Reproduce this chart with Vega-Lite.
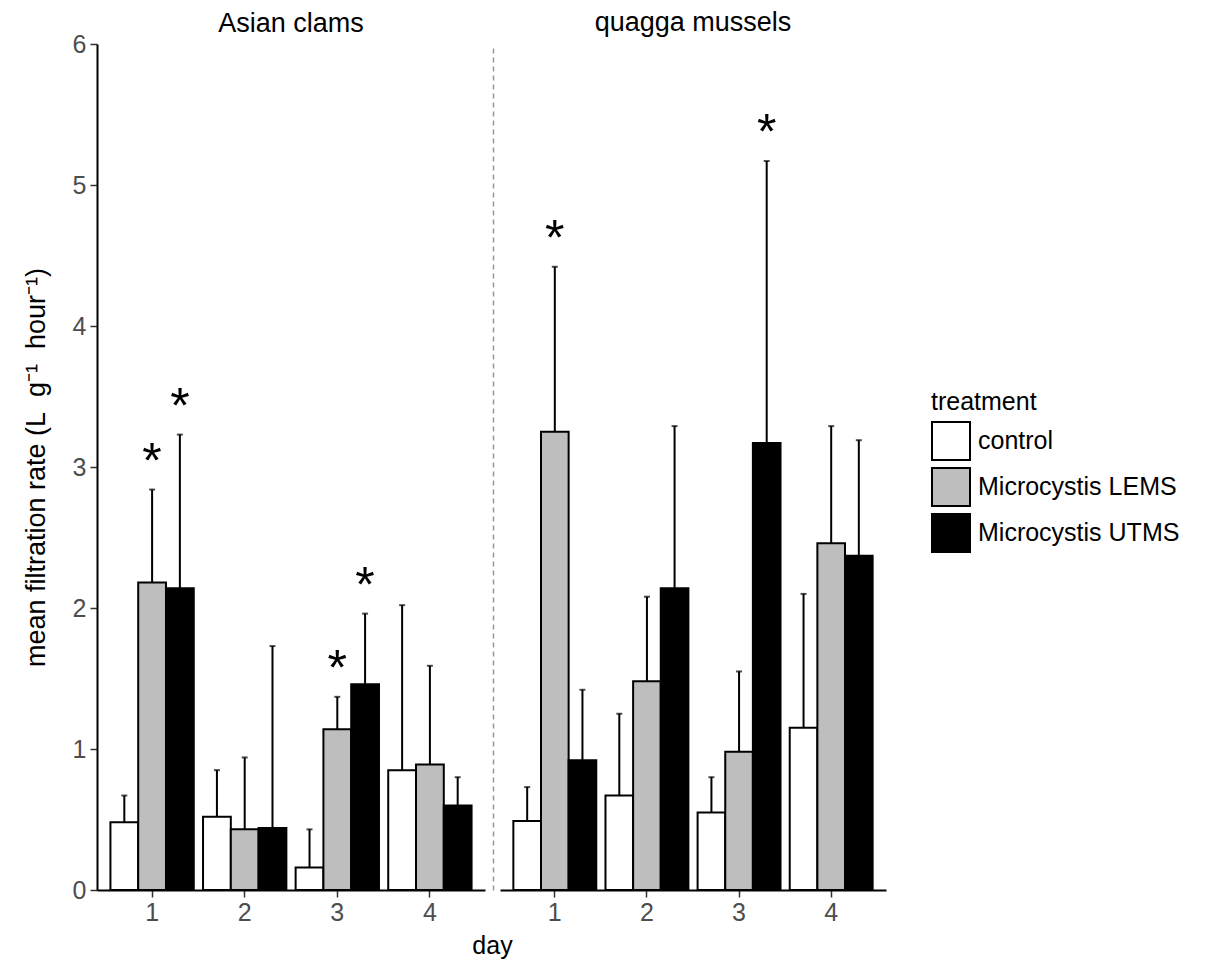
{
  "$schema": "https://vega.github.io/schema/vega-lite/v6.json",
  "background": "white",
  "padding": {"left": 22, "top": 9, "right": 5, "bottom": 5},
  "bounds": "flush",
  "spacing": 15,
  "data": {
    "values": [
      {"species": "Asian clams", "day": 1, "treatment": "control", "mean": 0.48, "upper": 0.67, "sig": ""},
      {"species": "Asian clams", "day": 1, "treatment": "Microcystis LEMS", "mean": 2.18, "upper": 2.84, "sig": "*"},
      {"species": "Asian clams", "day": 1, "treatment": "Microcystis UTMS", "mean": 2.14, "upper": 3.23, "sig": "*"},
      {"species": "Asian clams", "day": 2, "treatment": "control", "mean": 0.52, "upper": 0.85, "sig": ""},
      {"species": "Asian clams", "day": 2, "treatment": "Microcystis LEMS", "mean": 0.43, "upper": 0.94, "sig": ""},
      {"species": "Asian clams", "day": 2, "treatment": "Microcystis UTMS", "mean": 0.44, "upper": 1.73, "sig": ""},
      {"species": "Asian clams", "day": 3, "treatment": "control", "mean": 0.16, "upper": 0.43, "sig": ""},
      {"species": "Asian clams", "day": 3, "treatment": "Microcystis LEMS", "mean": 1.14, "upper": 1.37, "sig": "*"},
      {"species": "Asian clams", "day": 3, "treatment": "Microcystis UTMS", "mean": 1.46, "upper": 1.96, "sig": "*"},
      {"species": "Asian clams", "day": 4, "treatment": "control", "mean": 0.85, "upper": 2.02, "sig": ""},
      {"species": "Asian clams", "day": 4, "treatment": "Microcystis LEMS", "mean": 0.89, "upper": 1.59, "sig": ""},
      {"species": "Asian clams", "day": 4, "treatment": "Microcystis UTMS", "mean": 0.60, "upper": 0.80, "sig": ""},
      {"species": "quagga mussels", "day": 1, "treatment": "control", "mean": 0.49, "upper": 0.73, "sig": ""},
      {"species": "quagga mussels", "day": 1, "treatment": "Microcystis LEMS", "mean": 3.25, "upper": 4.42, "sig": "*"},
      {"species": "quagga mussels", "day": 1, "treatment": "Microcystis UTMS", "mean": 0.92, "upper": 1.42, "sig": ""},
      {"species": "quagga mussels", "day": 2, "treatment": "control", "mean": 0.67, "upper": 1.25, "sig": ""},
      {"species": "quagga mussels", "day": 2, "treatment": "Microcystis LEMS", "mean": 1.48, "upper": 2.08, "sig": ""},
      {"species": "quagga mussels", "day": 2, "treatment": "Microcystis UTMS", "mean": 2.14, "upper": 3.29, "sig": ""},
      {"species": "quagga mussels", "day": 3, "treatment": "control", "mean": 0.55, "upper": 0.80, "sig": ""},
      {"species": "quagga mussels", "day": 3, "treatment": "Microcystis LEMS", "mean": 0.98, "upper": 1.55, "sig": ""},
      {"species": "quagga mussels", "day": 3, "treatment": "Microcystis UTMS", "mean": 3.17, "upper": 5.17, "sig": "*"},
      {"species": "quagga mussels", "day": 4, "treatment": "control", "mean": 1.15, "upper": 2.10, "sig": ""},
      {"species": "quagga mussels", "day": 4, "treatment": "Microcystis LEMS", "mean": 2.46, "upper": 3.29, "sig": ""},
      {"species": "quagga mussels", "day": 4, "treatment": "Microcystis UTMS", "mean": 2.37, "upper": 3.19, "sig": ""}
    ]
  },
  "config": {
    "view": {"stroke": null},
    "font": "Liberation Sans",
    "axis": {
      "grid": false,
      "domainColor": "black",
      "domainWidth": 2,
      "tickColor": "#333333",
      "tickWidth": 1.5,
      "tickSize": 7,
      "labelColor": "#4D4D4D",
      "labelFont": "Liberation Sans",
      "labelFontSize": 25,
      "titleFont": "Liberation Sans",
      "titleFontSize": 25,
      "titleFontWeight": "normal",
      "titleColor": "black"
    },
    "title": {"font": "Liberation Sans", "fontSize": 27, "fontWeight": "normal", "color": "black", "anchor": "middle", "baseline": "alphabetic"},
    "legend": {
      "labelFont": "Liberation Sans",
      "titleFont": "Liberation Sans"
    }
  },
  "resolve": {"scale": {"xOffset": "independent"}},
  "hconcat": [
    {
      "width": 388,
      "height": 846,
      "title": {"text": "Asian clams", "offset": -6},
      "transform": [{"filter": "datum.species === 'Asian clams'"}],
      "encoding": {
        "x": {
          "field": "day", "type": "ordinal",
          "scale": {"paddingInner": 0.1, "paddingOuter": 0.145},
          "axis": {"title": "day", "titleX": 395, "labelAngle": 0, "labelPadding": 3, "titlePadding": 8}
        },
        "xOffset": {
          "field": "treatment", "type": "nominal",
          "sort": ["control", "Microcystis LEMS", "Microcystis UTMS"],
          "scale": {"domain": ["control", "Microcystis LEMS", "Microcystis UTMS"], "paddingInner": 0, "paddingOuter": 0}
        }
      },
      "layer": [
        {
          "mark": {"type": "bar", "stroke": "black", "strokeWidth": 2},
          "encoding": {
            "y": {
              "field": "mean", "type": "quantitative",
              "scale": {"domain": [0, 6], "nice": false},
              "axis": {"title": "mean filtration rate (L\u00a0\u00a0g⁻¹\u00a0\u00a0hour⁻¹)", "titleFontSize": 27, "values": [0, 1, 2, 3, 4, 5, 6], "format": "d", "labelPadding": 4, "titlePadding": 22}
            },
            "fill": {
              "field": "treatment", "type": "nominal",
              "scale": {"domain": ["control", "Microcystis LEMS", "Microcystis UTMS"], "range": ["white", "#bebebe", "black"]},
              "legend": {
                "title": "treatment",
                "orient": "none",
                "legendX": 834,
                "legendY": 346,
                "symbolType": "square",
                "symbolSize": 1444,
                "symbolStrokeColor": "black",
                "symbolStrokeWidth": 2,
                "rowPadding": 0,
                "labelFontSize": 25,
                "labelColor": "black",
                "labelLimit": 0,
                "labelOffset": 7,
                "titleFontSize": 25,
                "titleFontWeight": "normal",
                "titleColor": "black",
                "titlePadding": 6
              }
            }
          }
        },
        {
          "mark": {"type": "rule", "strokeWidth": 2, "color": "black"},
          "encoding": {
            "y": {"field": "mean", "type": "quantitative"},
            "y2": {"field": "upper"}
          }
        },
        {
          "mark": {"type": "tick", "size": 6, "thickness": 2, "color": "black"},
          "encoding": {
            "y": {"field": "upper", "type": "quantitative"}
          }
        },
        {
          "mark": {"type": "text", "fontSize": 50, "baseline": "alphabetic", "dy": -12, "color": "black"},
          "encoding": {
            "y": {"field": "upper", "type": "quantitative"},
            "text": {"field": "sig"}
          }
        }
      ]
    },
    {
      "width": 386,
      "height": 846,
      "title": {"text": "quagga mussels", "offset": 7},
      "transform": [{"filter": "datum.species === 'quagga mussels'"}],
      "encoding": {
        "x": {
          "field": "day", "type": "ordinal",
          "scale": {"paddingInner": 0.1, "paddingOuter": 0.145},
          "axis": {"title": null, "labelAngle": 0, "labelPadding": 3}
        },
        "xOffset": {
          "field": "treatment", "type": "nominal",
          "sort": ["control", "Microcystis LEMS", "Microcystis UTMS"],
          "scale": {"domain": ["control", "Microcystis LEMS", "Microcystis UTMS"], "paddingInner": 0, "paddingOuter": 0}
        }
      },
      "layer": [
        {
          "mark": {"type": "bar", "stroke": "black", "strokeWidth": 2},
          "encoding": {
            "y": {
              "field": "mean", "type": "quantitative",
              "scale": {"domain": [0, 6], "nice": false},
              "axis": {"title": null, "labels": false, "ticks": false, "offset": 7, "domainColor": "#999999", "domainDash": [5, 4], "domainWidth": 1.5}
            },
            "fill": {
              "field": "treatment", "type": "nominal",
              "scale": {"domain": ["control", "Microcystis LEMS", "Microcystis UTMS"], "range": ["white", "#bebebe", "black"]}
            }
          }
        },
        {
          "mark": {"type": "rule", "strokeWidth": 2, "color": "black"},
          "encoding": {
            "y": {"field": "mean", "type": "quantitative"},
            "y2": {"field": "upper"}
          }
        },
        {
          "mark": {"type": "tick", "size": 6, "thickness": 2, "color": "black"},
          "encoding": {
            "y": {"field": "upper", "type": "quantitative"}
          }
        },
        {
          "mark": {"type": "text", "fontSize": 50, "baseline": "alphabetic", "dy": -12, "color": "black"},
          "encoding": {
            "y": {"field": "upper", "type": "quantitative"},
            "text": {"field": "sig"}
          }
        }
      ]
    }
  ]
}
